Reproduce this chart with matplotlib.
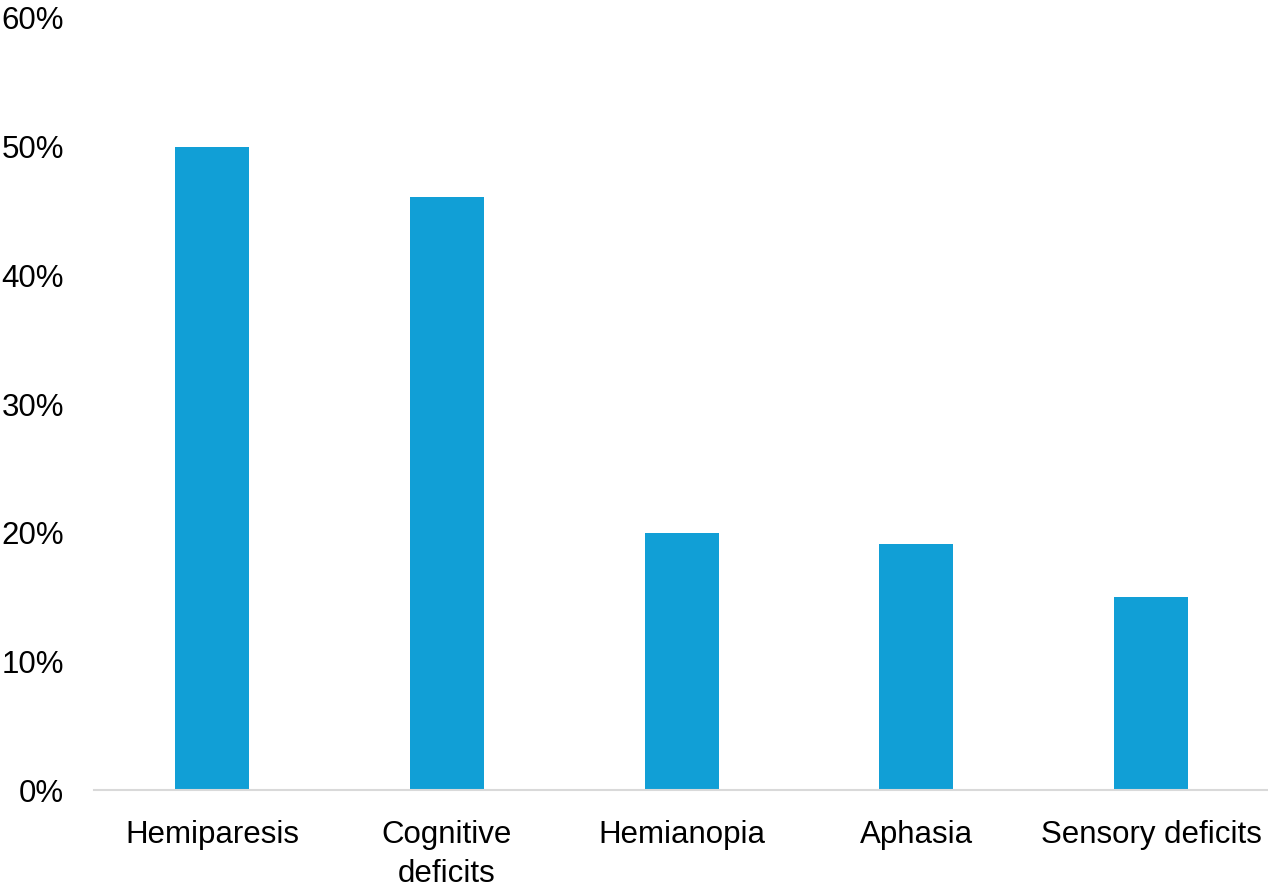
import matplotlib.pyplot as plt
from matplotlib.ticker import PercentFormatter

categories = ["Hemiparesis", "Cognitive\ndeficits", "Hemianopia", "Aphasia", "Sensory deficits"]
values = [50.0, 46.1, 20.0, 19.1, 15.0]
y_ticks = [0, 10, 20, 30, 40, 50, 60]

plt.rcParams["font.family"] = ["Liberation Sans", "DejaVu Sans"]

fig = plt.figure(figsize=(12.68, 8.88), dpi=100)
ax = fig.add_axes([0.0745, 0.110, 0.926, 0.870])

x = list(range(len(categories)))
ax.bar(x, values, width=0.315, color="#119FD6", zorder=2)

ax.set_xlim(-0.5, len(categories) - 0.5)
ax.set_ylim(0, 60)
ax.set_yticks(y_ticks)
ax.yaxis.set_major_formatter(PercentFormatter(decimals=0))
ax.set_xticks(x)
ax.set_xticklabels(categories, fontsize=22.5, linespacing=1.4)
ax.tick_params(axis="y", labelsize=22.5, length=0, pad=22)
ax.tick_params(axis="x", length=0, pad=21.5)

for side in ["top", "right", "left"]:
    ax.spines[side].set_visible(False)
ax.spines["bottom"].set_color("#D9D9D9")
ax.spines["bottom"].set_linewidth(1.5)

fig.savefig("out.png", dpi=100, facecolor="white")
